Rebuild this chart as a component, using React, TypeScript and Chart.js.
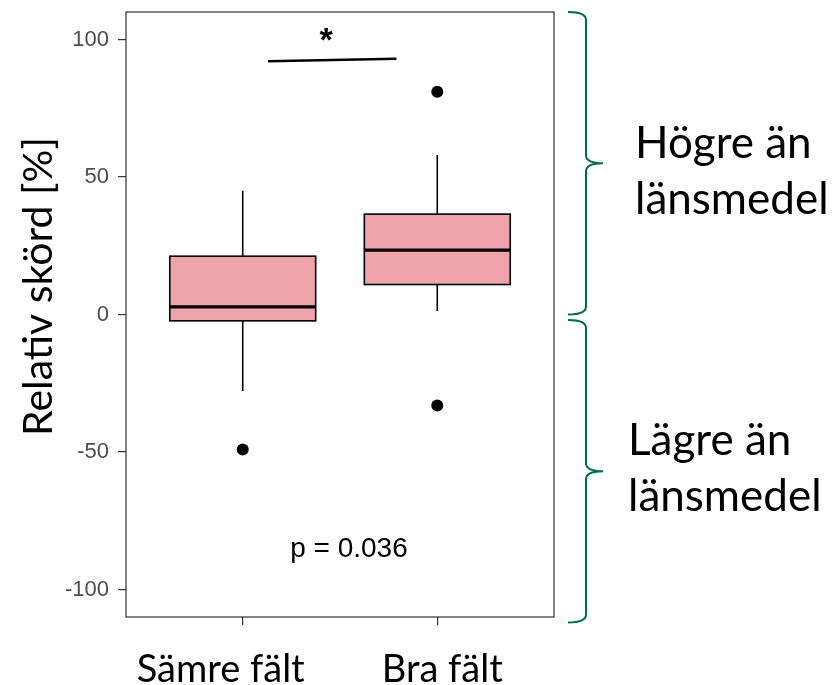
import { useEffect, useRef } from 'react';
import { Chart, registerables } from 'chart.js';

Chart.register(...registerables);

// Groups and five-number summaries of relative yield (%)
const categories = ['Sämre fält', 'Bra fält'];
const whiskerLow = [-27.8, 1.3];
const quartile1 = [-2.3, 10.9];
const medians = [2.8, 23.4];
const quartile3 = [21.2, 36.5];
const whiskerHigh = [45.0, 58.0];

// Outliers: group index (1-based) and value
const outlierGroup = [1, 2, 2];
const outlierValue = [-49.1, 81.0, -33.1];

const yTicks = [-100, -50, 0, 50, 100];
const yTitle = 'Relativ skörd [%]';

// Significance bracket between the groups
const sigLineX = [1.13, 1.79];
const sigLineY = [92.1, 93.0];
const sigMark = '*';
const pValueLabel = 'p = 0.036';
const pValueAt = [1.546, -85.4];

// Curly braces on the right: value span and caption lines
const braceRanges = [
  [110, 0],
  [-2, -112],
];
const braceLabels = [
  ['Högre än', 'länsmedel'],
  ['Lägre än', 'länsmedel'],
];

const BOX_HALF_WIDTH = 0.375;
const BOX_FILL = '#EEA2AC';
const BRACE_COLOR = '#006A4E';
const TEXT_FONT = 'Lato, "Open Sans", sans-serif';
const ARIAL = '"Liberation Sans", Arial, sans-serif';
const categoryShift = [-22, 5];
const braceTextX = [81, 74];
const braceTextShift = [-5, -16];

const boxPlugin = {
  id: 'boxes',
  beforeDatasetsDraw(chart: any) {
    const { ctx } = chart;
    const x = chart.scales.x;
    const y = chart.scales.y;
    categories.forEach((_, i) => {
      const cx = x.getPixelForValue(i + 1);
      const l = x.getPixelForValue(i + 1 - BOX_HALF_WIDTH);
      const r = x.getPixelForValue(i + 1 + BOX_HALF_WIDTH);
      const top = y.getPixelForValue(quartile3[i]);
      const bot = y.getPixelForValue(quartile1[i]);
      ctx.save();
      ctx.strokeStyle = '#000';
      ctx.lineWidth = 1.6;
      ctx.beginPath();
      ctx.moveTo(cx, y.getPixelForValue(whiskerHigh[i]));
      ctx.lineTo(cx, top);
      ctx.moveTo(cx, bot);
      ctx.lineTo(cx, y.getPixelForValue(whiskerLow[i]));
      ctx.stroke();
      ctx.fillStyle = BOX_FILL;
      ctx.fillRect(l, top, r - l, bot - top);
      ctx.strokeRect(l, top, r - l, bot - top);
      const m = y.getPixelForValue(medians[i]);
      ctx.lineWidth = 3.2;
      ctx.beginPath();
      ctx.moveTo(l, m);
      ctx.lineTo(r, m);
      ctx.stroke();
      ctx.restore();
    });
  },
};

function drawBrace(ctx: CanvasRenderingContext2D, xTip: number, yTop: number, yBot: number) {
  const spine = xTip + 18;
  const point = xTip + 35;
  const yMid = (yTop + yBot) / 2;
  const r = 8;
  ctx.beginPath();
  ctx.moveTo(xTip, yTop);
  ctx.quadraticCurveTo(spine, yTop, spine, yTop + r);
  ctx.lineTo(spine, yMid - r);
  ctx.quadraticCurveTo(spine, yMid, point, yMid);
  ctx.quadraticCurveTo(spine, yMid, spine, yMid + r);
  ctx.lineTo(spine, yBot - r);
  ctx.quadraticCurveTo(spine, yBot, xTip, yBot);
  ctx.stroke();
}

const annotationPlugin = {
  id: 'annotations',
  afterDraw(chart: any) {
    const { ctx, chartArea } = chart;
    const x = chart.scales.x;
    const y = chart.scales.y;
    ctx.save();

    // panel border
    ctx.strokeStyle = '#333';
    ctx.lineWidth = 1.2;
    ctx.strokeRect(chartArea.left, chartArea.top, chartArea.right - chartArea.left, chartArea.bottom - chartArea.top);

    // significance line and star
    ctx.strokeStyle = '#000';
    ctx.lineWidth = 2.5;
    ctx.beginPath();
    ctx.moveTo(x.getPixelForValue(sigLineX[0]), y.getPixelForValue(sigLineY[0]));
    ctx.lineTo(x.getPixelForValue(sigLineX[1]), y.getPixelForValue(sigLineY[1]));
    ctx.stroke();
    ctx.fillStyle = '#000';
    ctx.font = `bold 34px ${ARIAL}`;
    ctx.textAlign = 'center';
    ctx.textBaseline = 'middle';
    const midX = (x.getPixelForValue(sigLineX[0]) + x.getPixelForValue(sigLineX[1])) / 2;
    ctx.fillText(sigMark, midX - 6, y.getPixelForValue(sigLineY[1]) - 17);

    // p-value
    ctx.font = `28px ${ARIAL}`;
    ctx.fillText(pValueLabel, x.getPixelForValue(pValueAt[0]), y.getPixelForValue(pValueAt[1]));

    // y-axis title
    ctx.save();
    ctx.font = `41px ${TEXT_FONT}`;
    ctx.translate(chartArea.left - 74, (chartArea.top + chartArea.bottom) / 2 - 28);
    ctx.rotate(-Math.PI / 2);
    ctx.textAlign = 'center';
    ctx.textBaseline = 'alphabetic';
    ctx.fillText(yTitle, 0, 0);
    ctx.restore();

    // category labels
    ctx.font = `38px ${TEXT_FONT}`;
    ctx.textAlign = 'center';
    ctx.textBaseline = 'alphabetic';
    categories.forEach((c, i) => {
      ctx.fillText(c, x.getPixelForValue(i + 1) + categoryShift[i], chart.height - 3);
    });

    // braces and captions
    braceRanges.forEach((rng, i) => {
      const yTop = y.getPixelForValue(rng[0]);
      const yBot = y.getPixelForValue(rng[1]);
      ctx.strokeStyle = BRACE_COLOR;
      ctx.lineWidth = 2;
      drawBrace(ctx, chartArea.right + 14, yTop, yBot);
      const yMid = (yTop + yBot) / 2 + braceTextShift[i];
      ctx.fillStyle = '#000';
      ctx.font = `44px ${TEXT_FONT}`;
      ctx.textAlign = 'left';
      ctx.textBaseline = 'alphabetic';
      braceLabels[i].forEach((line, k) => {
        ctx.fillText(line, chartArea.right + braceTextX[i], yMid + k * 56);
      });
    });

    ctx.restore();
  },
};

export default function App() {
  const canvasRef = useRef<HTMLCanvasElement | null>(null);

  useEffect(() => {
    if (!canvasRef.current) return;
    const axisGrid = {
      display: true,
      drawOnChartArea: false,
      drawTicks: true,
      tickLength: 8,
      color: '#333',
      lineWidth: 1.2,
    };
    const chart = new Chart(canvasRef.current, {
      type: 'scatter',
      data: {
        datasets: [
          {
            data: outlierGroup.map((g, i) => ({ x: g, y: outlierValue[i] })),
            backgroundColor: '#000',
            borderWidth: 0,
            pointRadius: 6,
          },
        ],
      },
      options: {
        animation: false,
        responsive: true,
        maintainAspectRatio: false,
        layout: { padding: { top: 12, right: 281, left: 0, bottom: 0 } },
        plugins: { legend: { display: false }, tooltip: { enabled: false } },
        scales: {
          x: {
            type: 'linear',
            min: 0.4,
            max: 2.6,
            afterBuildTicks: (s: any) => {
              s.ticks = categories.map((_, i) => ({ value: i + 1 }));
            },
            afterFit: (s: any) => {
              s.height = 68;
              s.paddingLeft = 0;
              s.paddingRight = 0;
            },
            ticks: { display: false },
            grid: axisGrid,
            border: { display: false },
          },
          y: {
            type: 'linear',
            min: -110,
            max: 110,
            afterBuildTicks: (s: any) => {
              s.ticks = yTicks.map((v) => ({ value: v }));
            },
            afterFit: (s: any) => {
              s.width = 126;
              s.paddingTop = 0;
              s.paddingBottom = 0;
            },
            ticks: {
              font: { family: ARIAL, size: 22 },
              color: '#4D4D4D',
              padding: 9,
            },
            grid: axisGrid,
            border: { display: false },
          },
        },
      },
      plugins: [boxPlugin, annotationPlugin],
    });
    return () => chart.destroy();
  }, []);

  return (
    <div style={{ position: 'absolute', left: 0, top: 0, width: 835, height: 685, background: '#fff' }}>
      <canvas ref={canvasRef} />
    </div>
  );
}
